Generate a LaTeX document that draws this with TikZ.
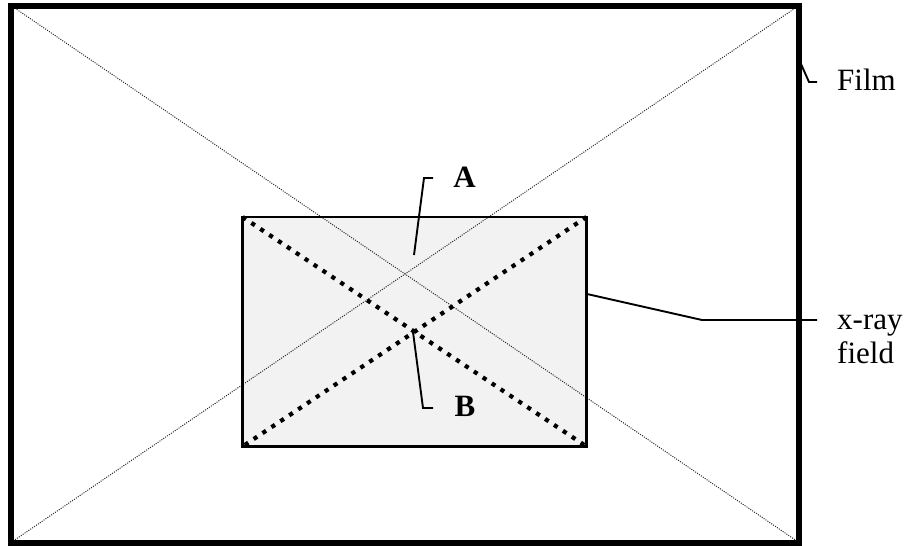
\documentclass[tikz,border=0pt]{standalone}
\usepackage{fontspec}
\setmainfont{Liberation Serif}
\definecolor{fieldfill}{RGB}{242,242,242}
\begin{document}
\begin{tikzpicture}[x=1pt,y=-1pt,
  lbl/.style={font=\fontsize{31}{35}\selectfont, inner sep=0pt},
  bl/.style={font=\fontsize{31}{35}\selectfont\bfseries, inner sep=0pt},
  leader/.style={line width=1.9pt},
  filmline/.style={line width=6pt},
  fieldline/.style={line width=2.4pt},
  thindots/.style={line width=1pt, black!85, dash pattern=on 1pt off 1.3pt},
  thickdots/.style={line width=4.2pt, dash pattern=on 4.2pt off 6.5pt}]
\useasboundingbox (0,0) rectangle (910,546);
% corners
\coordinate (fNW) at (11,5.5);
\coordinate (fSE) at (799,542.5);
\coordinate (fNE) at (799,5.5);
\coordinate (fSW) at (11,542.5);
\coordinate (xNW) at (242.5,217);
\coordinate (xSE) at (586.5,446.5);
\coordinate (xNE) at (586.5,217);
\coordinate (xSW) at (242.5,446.5);
% x-ray field fill
\fill[fieldfill] (xNW) rectangle (xSE);
% film diagonals
\draw[thindots] (fNW) -- (fSE);
\draw[thindots] (fNE) -- (fSW);
% field diagonals
\draw[thickdots] (xNW) -- (xSE);
\draw[thickdots] (xNE) -- (xSW);
% field border
\draw[fieldline] (xNW) rectangle (xSE);
% labels
\node[bl, anchor=base] (A) at (464.5,187) {A};
\node[bl, anchor=base] (B) at (465,416) {B};
\node[lbl, anchor=base west] (film) at (837,90) {Film};
\node[lbl, anchor=base west] (xray) at (837,329) {x-ray};
\node[lbl, anchor=base west] (field) at (837,363) {field};
% leaders
\coordinate (aTail) at (414,255);
\coordinate (aBend) at (424,178);
\coordinate (aEnd) at (433,178);
\draw[leader] (aTail) -- (aBend) -- (aEnd);
\coordinate (bTail) at (413,332);
\coordinate (bBend) at (423,408);
\coordinate (bEnd) at (433,408);
\draw[leader] (bTail) -- (bBend) -- (bEnd);
\coordinate (fTail) at (801,64);
\coordinate (fBend) at (809,82);
\coordinate (fEnd) at (817,82);
\draw[leader] (fTail) -- (fBend) -- (fEnd);
\coordinate (xTail) at (587,294);
\coordinate (xBend) at (702,320);
\coordinate (xEnd) at (817,320);
\draw[leader] (xTail) -- (xBend) -- (xEnd);
% film border
\draw[filmline] (fNW) rectangle (fSE);
\end{tikzpicture}
\end{document}
